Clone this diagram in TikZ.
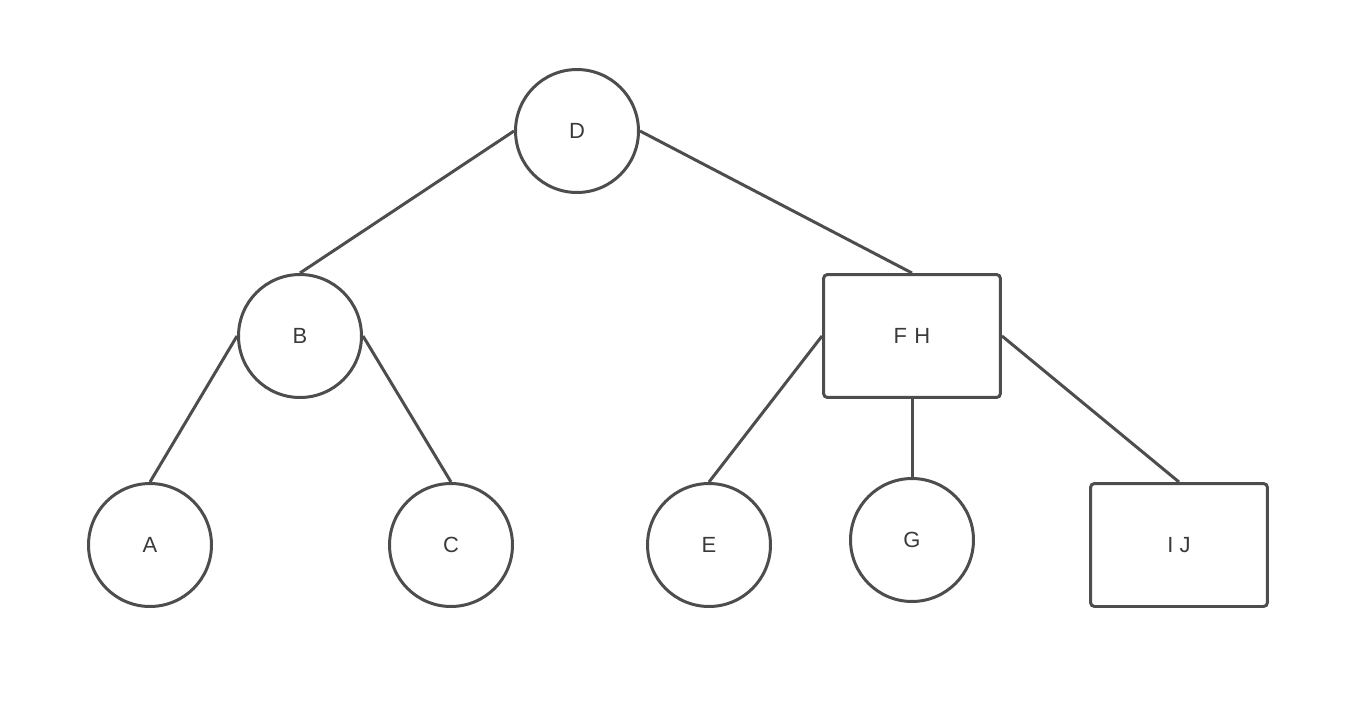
\documentclass[tikz,border=0pt]{standalone}
\usepackage{fontspec}
\setmainfont{Liberation Sans}
\usepackage{xcolor}
\usepackage{tikz}
\usetikzlibrary{positioning,calc}
\definecolor{edgegray}{HTML}{4d4d4d}
\definecolor{textgray}{HTML}{3a3a3a}

\begin{document}
\begin{tikzpicture}[x=0.02cm, y=-0.02cm,
    treecirc/.style={circle, draw=edgegray, line width=0.06cm, minimum size=2.46cm, inner sep=0pt,
      text=textgray, font=\fontsize{12.5}{15}\selectfont},
    treebox/.style={rectangle, rounded corners=0.08cm, draw=edgegray, line width=0.06cm,
      minimum width=3.54cm, minimum height=2.46cm, inner sep=0pt, text=textgray, font=\fontsize{12.5}{15}\selectfont},
    treeedge/.style={draw=edgegray, line width=0.06cm}]
  \useasboundingbox (0,0) rectangle (1366,704);

  % top level
  \node[treecirc] (D) at (577,131) {D};

  % second level
  \node[treecirc] (B) at (300,336) {B};
  \node[treebox] (FH) at (912,336) {F\,\,H};

  % leaves
  \node[treecirc] (A) at (150,545) {A};
  \node[treecirc] (C) at (451,545) {C};
  \node[treecirc] (E) at (709,545) {E};
  \node[treecirc] (G) at (912,540) {G};
  \node[treebox] (IJ) at (1179,545) {I J};

  % edges
  \draw[treeedge] (D.west) -- (B.north);
  \draw[treeedge] (D.east) -- (FH.north);
  \draw[treeedge] (B.west) -- (A.north);
  \draw[treeedge] (B.east) -- (C.north);
  \draw[treeedge] (FH.west) -- (E.north);
  \draw[treeedge] (FH.south) -- (G.north);
  \draw[treeedge] (FH.east) -- (IJ.north);
\end{tikzpicture}
\end{document}
